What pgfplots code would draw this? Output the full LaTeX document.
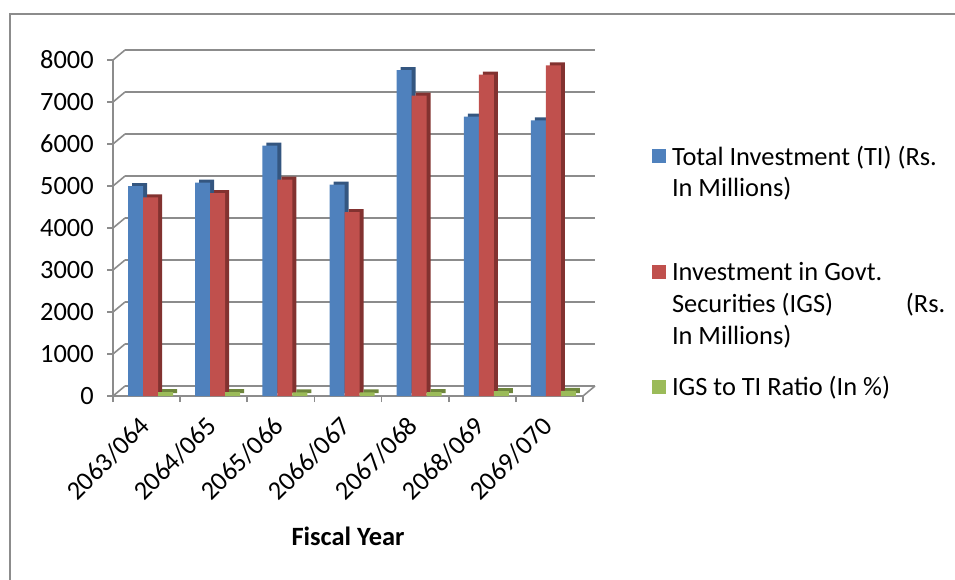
\documentclass[border=0pt]{standalone}
\usepackage{pgfplots}
\pgfplotsset{compat=1.18}
\usepackage{fontspec}
\setmainfont{Carlito}
\definecolor{cBlue}{RGB}{79,129,189}
\definecolor{cBlueD}{RGB}{52,86,128}
\definecolor{cRed}{RGB}{192,80,77}
\definecolor{cRedD}{RGB}{130,50,48}
\definecolor{cGreen}{RGB}{155,187,89}
\definecolor{cGreenD}{RGB}{110,134,60}
\definecolor{cGrid}{RGB}{140,140,140}
\begin{document}
\begin{tikzpicture}[font=\fontsize{19.8}{23.8}\selectfont]
\useasboundingbox (0pt,0pt) rectangle (716.25pt,-435pt);
\draw[cGrid, line width=0.9pt] (7.5pt,-435pt) -- (7.5pt,-10.5pt) -- (716.25pt,-10.5pt);
\begin{axis}[
  at={(84.75pt,-297pt)}, anchor=south west,
  scale only axis, width=352.5pt, height=252pt,
  xmin=-0.5, xmax=6.5, ymin=0, ymax=8000,
  ytick={0,1000,...,8000},
  scaled y ticks=false,
  /pgf/number format/assume math mode=true,
  /pgf/number format/1000 sep={},
  x tick label as interval,
  xtick={-0.5,0.5,1.5,2.5,3.5,4.5,5.5,6.5},
  xticklabels={2063/064,2064/065,2065/066,2066/067,2067/068,2068/069,2069/070,},
  axis x line*=bottom, axis y line*=left,
  axis line style={cGrid, line width=1.2pt, -},
  tick style={cGrid, line width=1.2pt},
  tick align=outside, major tick length=4.5pt,
  ymajorgrids,
  major grid style={cGrid, line width=1.2pt, xshift=9pt, yshift=7.5pt},
  yticklabel style={anchor=east, inner sep=0pt, xshift=-9.75pt},
  xticklabel style={xshift=-1.35pt, yshift=-14.85pt, rotate=45, anchor=east, inner sep=0pt},
  xlabel={\bfseries Fiscal Year},
  xlabel style={at={(axis description cs:0.5,-0.4435)}, anchor=base},
  legend style={at={(axis description cs:1.1468,0.7536)}, anchor=north west,
    draw=none, fill=none, inner sep=0pt, outer sep=0pt, row sep=0pt, column sep=4.5pt,
    cells={anchor=base west}, nodes={inner sep=0pt}},
  clip=false,
]
\pgfplotsinvokeforeach{0,1000,...,8000}{\draw[cGrid, line width=1.2pt] (axis cs:-0.5,#1) -- ++(9pt,7.5pt);}
\draw[cGrid, line width=1.2pt] (axis cs:6.5,0) -- ++(9pt,7.5pt);
% Total Investment
\addplot[ybar, bar width=11.25pt, bar shift=-8.25pt, fill=cBlueD, draw=none, xshift=3pt, yshift=2.25pt, forget plot]
  coordinates {(0,5000) (1,5080) (2,5960) (3,5030) (4,7760) (5,6650) (6,6560)};
\addplot[ybar, bar width=11.25pt, bar shift=-8.25pt, fill=cBlue, draw=none,
  legend image code/.code={\path (0pt,0pt); \fill[cBlue] (0pt,25.3pt) rectangle (10.5pt,35.8pt);}]
  coordinates {(0,5000) (1,5080) (2,5960) (3,5030) (4,7760) (5,6650) (6,6560)};
\addlegendentry{\raisebox{0pt}[\height][0pt]{\begin{tabular}[b]{@{}l@{}}\rule{0pt}{16.66pt}Total Investment (TI) (Rs.\\In Millions)\end{tabular}}}
% IGS
\addplot[ybar, bar width=11.25pt, bar shift=3pt, fill=cRedD, draw=none, xshift=3pt, yshift=2.25pt, forget plot]
  coordinates {(0,4730) (1,4830) (2,5150) (3,4380) (4,7150) (5,7650) (6,7870)};
\addplot[ybar, bar width=11.25pt, bar shift=3pt, fill=cRed, draw=none,
  legend image code/.code={\path (0pt,0pt); \fill[cRed] (0pt,49.1pt) rectangle (10.5pt,59.6pt);}]
  coordinates {(0,4730) (1,4830) (2,5150) (3,4380) (4,7150) (5,7650) (6,7870)};
\addlegendentry{\raisebox{0pt}[\height][0pt]{\begin{tabular}[b]{@{}l@{}}\rule{0pt}{61.4pt}Investment in Govt.\\\makebox[205pt][l]{Securities (IGS)\hfill(Rs.}\\In Millions)\end{tabular}}}
% Ratio
\addplot[ybar, bar width=11.25pt, bar shift=14.25pt, fill=cGreenD, draw=none, xshift=3pt, yshift=2.25pt, forget plot]
  coordinates {(0,94.6) (1,95.1) (2,86.4) (3,87.1) (4,92.1) (5,115.0) (6,120.0)};
\addplot[ybar, bar width=11.25pt, bar shift=14.25pt, fill=cGreen, draw=none,
  legend image code/.code={\path (0pt,0pt); \fill[cGreen] (0pt,1.5pt) rectangle (10.5pt,12pt);}]
  coordinates {(0,94.6) (1,95.1) (2,86.4) (3,87.1) (4,92.1) (5,115.0) (6,120.0)};
\addlegendentry{\raisebox{0pt}[\height][0pt]{\begin{tabular}[b]{@{}l@{}}\rule{0pt}{37.3pt}IGS to TI Ratio (In \%)\end{tabular}}}
\end{axis}
\end{tikzpicture}
\end{document}
